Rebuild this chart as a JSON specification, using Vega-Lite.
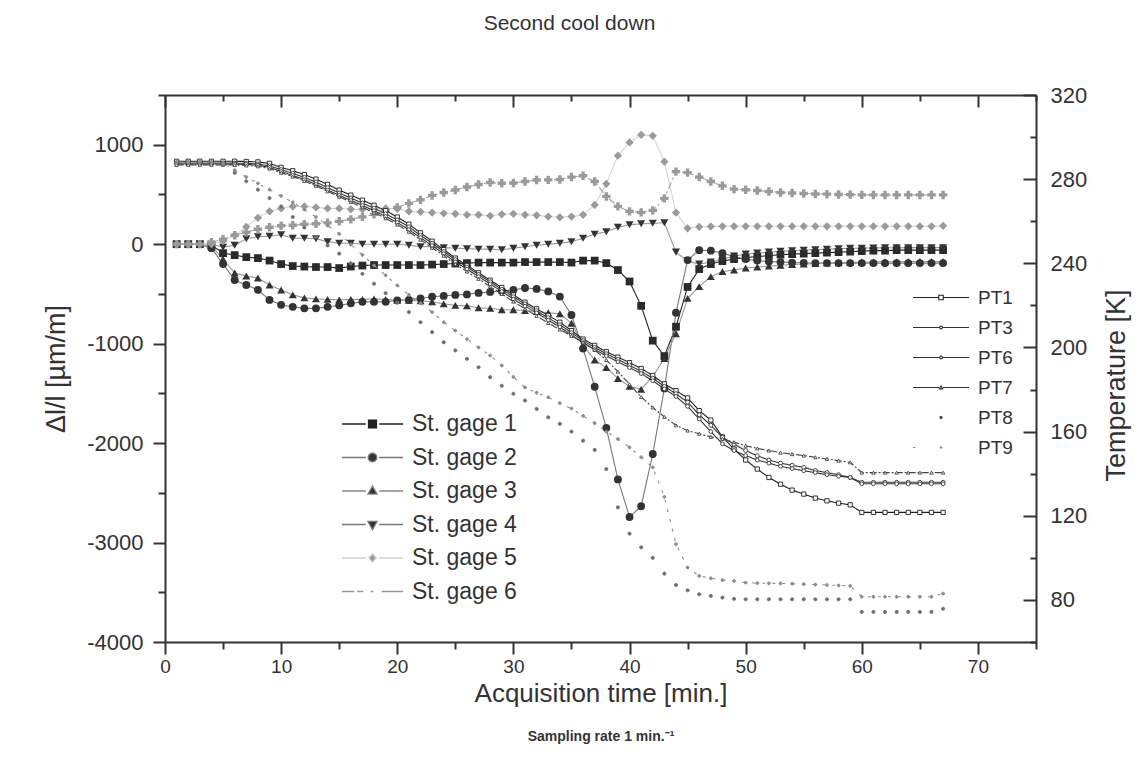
{
"$schema": "https://vega.github.io/schema/vega-lite/v6.json",
"autosize": {"type": "none"},
"padding": {"left": 165, "top": 95, "right": 103, "bottom": 129},
"width": 871,
"height": 547,
"background": "white",
"config": {"view": {"stroke": null}, "font": "Liberation Sans"},
"title": {"text": "Second cool down", "fontSize": 21, "fontWeight": "normal", "color": "#333", "font": "Liberation Sans", "anchor": "middle", "frame": "group", "dx": -31, "offset": 50},
"datasets": {
"strain": [
{"t":1,"s":"St. gage 1","v":0},{"t":2,"s":"St. gage 1","v":0},{"t":3,"s":"St. gage 1","v":0},{"t":4,"s":"St. gage 1","v":-10},{"t":5,"s":"St. gage 1","v":-90},{"t":6,"s":"St. gage 1","v":-110},{"t":7,"s":"St. gage 1","v":-130},{"t":8,"s":"St. gage 1","v":-140},{"t":9,"s":"St. gage 1","v":-165},{"t":10,"s":"St. gage 1","v":-200},
{"t":11,"s":"St. gage 1","v":-220},{"t":12,"s":"St. gage 1","v":-225},{"t":13,"s":"St. gage 1","v":-230},{"t":14,"s":"St. gage 1","v":-230},{"t":15,"s":"St. gage 1","v":-240},{"t":16,"s":"St. gage 1","v":-225},{"t":17,"s":"St. gage 1","v":-215},{"t":18,"s":"St. gage 1","v":-210},{"t":19,"s":"St. gage 1","v":-210},{"t":20,"s":"St. gage 1","v":-210},
{"t":21,"s":"St. gage 1","v":-210},{"t":22,"s":"St. gage 1","v":-210},{"t":23,"s":"St. gage 1","v":-205},{"t":24,"s":"St. gage 1","v":-200},{"t":25,"s":"St. gage 1","v":-195},{"t":26,"s":"St. gage 1","v":-190},{"t":27,"s":"St. gage 1","v":-185},{"t":28,"s":"St. gage 1","v":-185},{"t":29,"s":"St. gage 1","v":-185},{"t":30,"s":"St. gage 1","v":-185},
{"t":31,"s":"St. gage 1","v":-180},{"t":32,"s":"St. gage 1","v":-180},{"t":33,"s":"St. gage 1","v":-180},{"t":34,"s":"St. gage 1","v":-180},{"t":35,"s":"St. gage 1","v":-185},{"t":36,"s":"St. gage 1","v":-165},{"t":37,"s":"St. gage 1","v":-165},{"t":38,"s":"St. gage 1","v":-190},{"t":39,"s":"St. gage 1","v":-260},{"t":40,"s":"St. gage 1","v":-375},
{"t":41,"s":"St. gage 1","v":-620},{"t":42,"s":"St. gage 1","v":-970},{"t":43,"s":"St. gage 1","v":-1125},{"t":44,"s":"St. gage 1","v":-830},{"t":45,"s":"St. gage 1","v":-430},{"t":46,"s":"St. gage 1","v":-250},{"t":47,"s":"St. gage 1","v":-200},{"t":48,"s":"St. gage 1","v":-170},{"t":49,"s":"St. gage 1","v":-150},{"t":50,"s":"St. gage 1","v":-135},
{"t":51,"s":"St. gage 1","v":-125},{"t":52,"s":"St. gage 1","v":-115},{"t":53,"s":"St. gage 1","v":-105},{"t":54,"s":"St. gage 1","v":-100},{"t":55,"s":"St. gage 1","v":-95},{"t":56,"s":"St. gage 1","v":-90},{"t":57,"s":"St. gage 1","v":-85},{"t":58,"s":"St. gage 1","v":-80},{"t":59,"s":"St. gage 1","v":-75},{"t":60,"s":"St. gage 1","v":-70},
{"t":61,"s":"St. gage 1","v":-65},{"t":62,"s":"St. gage 1","v":-65},{"t":63,"s":"St. gage 1","v":-60},{"t":64,"s":"St. gage 1","v":-60},{"t":65,"s":"St. gage 1","v":-60},{"t":66,"s":"St. gage 1","v":-60},{"t":67,"s":"St. gage 1","v":-60},
{"t":1,"s":"St. gage 2","v":0},{"t":2,"s":"St. gage 2","v":0},{"t":3,"s":"St. gage 2","v":0},{"t":4,"s":"St. gage 2","v":-40},{"t":5,"s":"St. gage 2","v":-200},{"t":6,"s":"St. gage 2","v":-360},{"t":7,"s":"St. gage 2","v":-410},{"t":8,"s":"St. gage 2","v":-460},{"t":9,"s":"St. gage 2","v":-560},{"t":10,"s":"St. gage 2","v":-610},
{"t":11,"s":"St. gage 2","v":-630},{"t":12,"s":"St. gage 2","v":-645},{"t":13,"s":"St. gage 2","v":-645},{"t":14,"s":"St. gage 2","v":-630},{"t":15,"s":"St. gage 2","v":-615},{"t":16,"s":"St. gage 2","v":-595},{"t":17,"s":"St. gage 2","v":-580},{"t":18,"s":"St. gage 2","v":-580},{"t":19,"s":"St. gage 2","v":-580},{"t":20,"s":"St. gage 2","v":-565},
{"t":21,"s":"St. gage 2","v":-560},{"t":22,"s":"St. gage 2","v":-545},{"t":23,"s":"St. gage 2","v":-528},{"t":24,"s":"St. gage 2","v":-520},{"t":25,"s":"St. gage 2","v":-510},{"t":26,"s":"St. gage 2","v":-505},{"t":27,"s":"St. gage 2","v":-490},{"t":28,"s":"St. gage 2","v":-480},{"t":29,"s":"St. gage 2","v":-470},{"t":30,"s":"St. gage 2","v":-460},
{"t":31,"s":"St. gage 2","v":-440},{"t":32,"s":"St. gage 2","v":-450},{"t":33,"s":"St. gage 2","v":-475},{"t":34,"s":"St. gage 2","v":-527},{"t":35,"s":"St. gage 2","v":-712},{"t":36,"s":"St. gage 2","v":-1050},{"t":37,"s":"St. gage 2","v":-1434},{"t":38,"s":"St. gage 2","v":-1847},{"t":39,"s":"St. gage 2","v":-2365},{"t":40,"s":"St. gage 2","v":-2743},
{"t":41,"s":"St. gage 2","v":-2635},{"t":42,"s":"St. gage 2","v":-2110},{"t":43,"s":"St. gage 2","v":-1450},{"t":44,"s":"St. gage 2","v":-690},{"t":45,"s":"St. gage 2","v":-160},{"t":46,"s":"St. gage 2","v":-60},{"t":47,"s":"St. gage 2","v":-65},{"t":48,"s":"St. gage 2","v":-90},{"t":49,"s":"St. gage 2","v":-125},{"t":50,"s":"St. gage 2","v":-150},
{"t":51,"s":"St. gage 2","v":-165},{"t":52,"s":"St. gage 2","v":-175},{"t":53,"s":"St. gage 2","v":-180},{"t":54,"s":"St. gage 2","v":-185},{"t":55,"s":"St. gage 2","v":-188},{"t":56,"s":"St. gage 2","v":-190},{"t":57,"s":"St. gage 2","v":-190},{"t":58,"s":"St. gage 2","v":-190},{"t":59,"s":"St. gage 2","v":-190},{"t":60,"s":"St. gage 2","v":-190},
{"t":61,"s":"St. gage 2","v":-190},{"t":62,"s":"St. gage 2","v":-190},{"t":63,"s":"St. gage 2","v":-190},{"t":64,"s":"St. gage 2","v":-190},{"t":65,"s":"St. gage 2","v":-190},{"t":66,"s":"St. gage 2","v":-190},{"t":67,"s":"St. gage 2","v":-190},
{"t":1,"s":"St. gage 3","v":0},{"t":2,"s":"St. gage 3","v":0},{"t":3,"s":"St. gage 3","v":0},{"t":4,"s":"St. gage 3","v":-20},{"t":5,"s":"St. gage 3","v":-150},{"t":6,"s":"St. gage 3","v":-290},{"t":7,"s":"St. gage 3","v":-320},{"t":8,"s":"St. gage 3","v":-340},{"t":9,"s":"St. gage 3","v":-410},{"t":10,"s":"St. gage 3","v":-460},
{"t":11,"s":"St. gage 3","v":-510},{"t":12,"s":"St. gage 3","v":-540},{"t":13,"s":"St. gage 3","v":-550},{"t":14,"s":"St. gage 3","v":-555},{"t":15,"s":"St. gage 3","v":-560},{"t":16,"s":"St. gage 3","v":-555},{"t":17,"s":"St. gage 3","v":-555},{"t":18,"s":"St. gage 3","v":-550},{"t":19,"s":"St. gage 3","v":-555},{"t":20,"s":"St. gage 3","v":-565},
{"t":21,"s":"St. gage 3","v":-565},{"t":22,"s":"St. gage 3","v":-570},{"t":23,"s":"St. gage 3","v":-580},{"t":24,"s":"St. gage 3","v":-600},{"t":25,"s":"St. gage 3","v":-615},{"t":26,"s":"St. gage 3","v":-620},{"t":27,"s":"St. gage 3","v":-640},{"t":28,"s":"St. gage 3","v":-645},{"t":29,"s":"St. gage 3","v":-660},{"t":30,"s":"St. gage 3","v":-660},
{"t":31,"s":"St. gage 3","v":-668},{"t":32,"s":"St. gage 3","v":-677},{"t":33,"s":"St. gage 3","v":-690},{"t":34,"s":"St. gage 3","v":-700},{"t":35,"s":"St. gage 3","v":-795},{"t":36,"s":"St. gage 3","v":-1015},{"t":37,"s":"St. gage 3","v":-1165},{"t":38,"s":"St. gage 3","v":-1240},{"t":39,"s":"St. gage 3","v":-1350},{"t":40,"s":"St. gage 3","v":-1430},
{"t":41,"s":"St. gage 3","v":-1460},{"t":42,"s":"St. gage 3","v":-1330},{"t":43,"s":"St. gage 3","v":-1150},{"t":44,"s":"St. gage 3","v":-900},{"t":45,"s":"St. gage 3","v":-545},{"t":46,"s":"St. gage 3","v":-427},{"t":47,"s":"St. gage 3","v":-326},{"t":48,"s":"St. gage 3","v":-276},{"t":49,"s":"St. gage 3","v":-259},{"t":50,"s":"St. gage 3","v":-240},
{"t":51,"s":"St. gage 3","v":-230},{"t":52,"s":"St. gage 3","v":-220},{"t":53,"s":"St. gage 3","v":-212},{"t":54,"s":"St. gage 3","v":-205},{"t":55,"s":"St. gage 3","v":-200},{"t":56,"s":"St. gage 3","v":-195},{"t":57,"s":"St. gage 3","v":-190},{"t":58,"s":"St. gage 3","v":-187},{"t":59,"s":"St. gage 3","v":-185},{"t":60,"s":"St. gage 3","v":-180},
{"t":61,"s":"St. gage 3","v":-178},{"t":62,"s":"St. gage 3","v":-177},{"t":63,"s":"St. gage 3","v":-176},{"t":64,"s":"St. gage 3","v":-175},{"t":65,"s":"St. gage 3","v":-175},{"t":66,"s":"St. gage 3","v":-175},{"t":67,"s":"St. gage 3","v":-175},
{"t":1,"s":"St. gage 4","v":0},{"t":2,"s":"St. gage 4","v":0},{"t":3,"s":"St. gage 4","v":0},{"t":4,"s":"St. gage 4","v":0},{"t":5,"s":"St. gage 4","v":-30},{"t":6,"s":"St. gage 4","v":-10},{"t":7,"s":"St. gage 4","v":55},{"t":8,"s":"St. gage 4","v":75},{"t":9,"s":"St. gage 4","v":80},{"t":10,"s":"St. gage 4","v":95},
{"t":11,"s":"St. gage 4","v":60},{"t":12,"s":"St. gage 4","v":60},{"t":13,"s":"St. gage 4","v":55},{"t":14,"s":"St. gage 4","v":25},{"t":15,"s":"St. gage 4","v":10},{"t":16,"s":"St. gage 4","v":10},{"t":17,"s":"St. gage 4","v":0},{"t":18,"s":"St. gage 4","v":0},{"t":19,"s":"St. gage 4","v":0},{"t":20,"s":"St. gage 4","v":0},
{"t":21,"s":"St. gage 4","v":-10},{"t":22,"s":"St. gage 4","v":-25},{"t":23,"s":"St. gage 4","v":-25},{"t":24,"s":"St. gage 4","v":-35},{"t":25,"s":"St. gage 4","v":-40},{"t":26,"s":"St. gage 4","v":-45},{"t":27,"s":"St. gage 4","v":-50},{"t":28,"s":"St. gage 4","v":-50},{"t":29,"s":"St. gage 4","v":-57},{"t":30,"s":"St. gage 4","v":-40},
{"t":31,"s":"St. gage 4","v":-25},{"t":32,"s":"St. gage 4","v":-10},{"t":33,"s":"St. gage 4","v":0},{"t":34,"s":"St. gage 4","v":10},{"t":35,"s":"St. gage 4","v":25},{"t":36,"s":"St. gage 4","v":60},{"t":37,"s":"St. gage 4","v":100},{"t":38,"s":"St. gage 4","v":125},{"t":39,"s":"St. gage 4","v":170},{"t":40,"s":"St. gage 4","v":195},
{"t":41,"s":"St. gage 4","v":205},{"t":42,"s":"St. gage 4","v":210},{"t":43,"s":"St. gage 4","v":215},{"t":44,"s":"St. gage 4","v":-80},{"t":45,"s":"St. gage 4","v":-170},{"t":46,"s":"St. gage 4","v":-200},{"t":47,"s":"St. gage 4","v":-180},{"t":48,"s":"St. gage 4","v":-150},{"t":49,"s":"St. gage 4","v":-120},{"t":50,"s":"St. gage 4","v":-100},
{"t":51,"s":"St. gage 4","v":-90},{"t":52,"s":"St. gage 4","v":-80},{"t":53,"s":"St. gage 4","v":-70},{"t":54,"s":"St. gage 4","v":-65},{"t":55,"s":"St. gage 4","v":-60},{"t":56,"s":"St. gage 4","v":-55},{"t":57,"s":"St. gage 4","v":-50},{"t":58,"s":"St. gage 4","v":-45},{"t":59,"s":"St. gage 4","v":-42},{"t":60,"s":"St. gage 4","v":-40},
{"t":61,"s":"St. gage 4","v":-38},{"t":62,"s":"St. gage 4","v":-37},{"t":63,"s":"St. gage 4","v":-36},{"t":64,"s":"St. gage 4","v":-35},{"t":65,"s":"St. gage 4","v":-35},{"t":66,"s":"St. gage 4","v":-35},{"t":67,"s":"St. gage 4","v":-35},
{"t":1,"s":"St. gage 5","v":0},{"t":2,"s":"St. gage 5","v":0},{"t":3,"s":"St. gage 5","v":0},{"t":4,"s":"St. gage 5","v":0},{"t":5,"s":"St. gage 5","v":30},{"t":6,"s":"St. gage 5","v":90},{"t":7,"s":"St. gage 5","v":175},{"t":8,"s":"St. gage 5","v":265},{"t":9,"s":"St. gage 5","v":330},{"t":10,"s":"St. gage 5","v":360},
{"t":11,"s":"St. gage 5","v":380},{"t":12,"s":"St. gage 5","v":380},{"t":13,"s":"St. gage 5","v":370},{"t":14,"s":"St. gage 5","v":360},{"t":15,"s":"St. gage 5","v":360},{"t":16,"s":"St. gage 5","v":350},{"t":17,"s":"St. gage 5","v":350},{"t":18,"s":"St. gage 5","v":355},{"t":19,"s":"St. gage 5","v":360},{"t":20,"s":"St. gage 5","v":355},
{"t":21,"s":"St. gage 5","v":330},{"t":22,"s":"St. gage 5","v":325},{"t":23,"s":"St. gage 5","v":318},{"t":24,"s":"St. gage 5","v":310},{"t":25,"s":"St. gage 5","v":305},{"t":26,"s":"St. gage 5","v":295},{"t":27,"s":"St. gage 5","v":295},{"t":28,"s":"St. gage 5","v":285},{"t":29,"s":"St. gage 5","v":300},{"t":30,"s":"St. gage 5","v":305},
{"t":31,"s":"St. gage 5","v":295},{"t":32,"s":"St. gage 5","v":290},{"t":33,"s":"St. gage 5","v":278},{"t":34,"s":"St. gage 5","v":270},{"t":35,"s":"St. gage 5","v":278},{"t":36,"s":"St. gage 5","v":295},{"t":37,"s":"St. gage 5","v":395},{"t":38,"s":"St. gage 5","v":607},{"t":39,"s":"St. gage 5","v":890},{"t":40,"s":"St. gage 5","v":1023},
{"t":41,"s":"St. gage 5","v":1100},{"t":42,"s":"St. gage 5","v":1090},{"t":43,"s":"St. gage 5","v":830},{"t":44,"s":"St. gage 5","v":318},{"t":45,"s":"St. gage 5","v":160},{"t":46,"s":"St. gage 5","v":175},{"t":47,"s":"St. gage 5","v":178},{"t":48,"s":"St. gage 5","v":180},{"t":49,"s":"St. gage 5","v":180},{"t":50,"s":"St. gage 5","v":180},
{"t":51,"s":"St. gage 5","v":180},{"t":52,"s":"St. gage 5","v":180},{"t":53,"s":"St. gage 5","v":180},{"t":54,"s":"St. gage 5","v":180},{"t":55,"s":"St. gage 5","v":180},{"t":56,"s":"St. gage 5","v":180},{"t":57,"s":"St. gage 5","v":180},{"t":58,"s":"St. gage 5","v":180},{"t":59,"s":"St. gage 5","v":180},{"t":60,"s":"St. gage 5","v":180},
{"t":61,"s":"St. gage 5","v":180},{"t":62,"s":"St. gage 5","v":180},{"t":63,"s":"St. gage 5","v":180},{"t":64,"s":"St. gage 5","v":180},{"t":65,"s":"St. gage 5","v":180},{"t":66,"s":"St. gage 5","v":180},{"t":67,"s":"St. gage 5","v":185},
{"t":1,"s":"St. gage 6","v":0},{"t":2,"s":"St. gage 6","v":0},{"t":3,"s":"St. gage 6","v":0},{"t":4,"s":"St. gage 6","v":20},{"t":5,"s":"St. gage 6","v":50},{"t":6,"s":"St. gage 6","v":90},{"t":7,"s":"St. gage 6","v":120},{"t":8,"s":"St. gage 6","v":150},{"t":9,"s":"St. gage 6","v":170},{"t":10,"s":"St. gage 6","v":185},
{"t":11,"s":"St. gage 6","v":190},{"t":12,"s":"St. gage 6","v":200},{"t":13,"s":"St. gage 6","v":205},{"t":14,"s":"St. gage 6","v":215},{"t":15,"s":"St. gage 6","v":230},{"t":16,"s":"St. gage 6","v":250},{"t":17,"s":"St. gage 6","v":275},{"t":18,"s":"St. gage 6","v":300},{"t":19,"s":"St. gage 6","v":335},{"t":20,"s":"St. gage 6","v":370},
{"t":21,"s":"St. gage 6","v":410},{"t":22,"s":"St. gage 6","v":445},{"t":23,"s":"St. gage 6","v":490},{"t":24,"s":"St. gage 6","v":520},{"t":25,"s":"St. gage 6","v":545},{"t":26,"s":"St. gage 6","v":575},{"t":27,"s":"St. gage 6","v":600},{"t":28,"s":"St. gage 6","v":620},{"t":29,"s":"St. gage 6","v":613},{"t":30,"s":"St. gage 6","v":615},
{"t":31,"s":"St. gage 6","v":630},{"t":32,"s":"St. gage 6","v":645},{"t":33,"s":"St. gage 6","v":647},{"t":34,"s":"St. gage 6","v":650},{"t":35,"s":"St. gage 6","v":675},{"t":36,"s":"St. gage 6","v":688},{"t":37,"s":"St. gage 6","v":630},{"t":38,"s":"St. gage 6","v":480},{"t":39,"s":"St. gage 6","v":380},{"t":40,"s":"St. gage 6","v":330},
{"t":41,"s":"St. gage 6","v":320},{"t":42,"s":"St. gage 6","v":340},{"t":43,"s":"St. gage 6","v":460},{"t":44,"s":"St. gage 6","v":730},{"t":45,"s":"St. gage 6","v":720},{"t":46,"s":"St. gage 6","v":675},{"t":47,"s":"St. gage 6","v":630},{"t":48,"s":"St. gage 6","v":587},{"t":49,"s":"St. gage 6","v":553},{"t":50,"s":"St. gage 6","v":547},
{"t":51,"s":"St. gage 6","v":540},{"t":52,"s":"St. gage 6","v":530},{"t":53,"s":"St. gage 6","v":520},{"t":54,"s":"St. gage 6","v":515},{"t":55,"s":"St. gage 6","v":510},{"t":56,"s":"St. gage 6","v":505},{"t":57,"s":"St. gage 6","v":503},{"t":58,"s":"St. gage 6","v":500},{"t":59,"s":"St. gage 6","v":498},{"t":60,"s":"St. gage 6","v":496},
{"t":61,"s":"St. gage 6","v":495},{"t":62,"s":"St. gage 6","v":495},{"t":63,"s":"St. gage 6","v":495},{"t":64,"s":"St. gage 6","v":495},{"t":65,"s":"St. gage 6","v":495},{"t":66,"s":"St. gage 6","v":495},{"t":67,"s":"St. gage 6","v":495}
],
"temp": [
{"t":1,"s":"PT1","k":288.5},{"t":2,"s":"PT1","k":288.5},{"t":3,"s":"PT1","k":288.5},{"t":4,"s":"PT1","k":288.5},{"t":5,"s":"PT1","k":288.5},{"t":6,"s":"PT1","k":288.5},{"t":7,"s":"PT1","k":288.4},{"t":8,"s":"PT1","k":288.2},{"t":9,"s":"PT1","k":287.5},{"t":10,"s":"PT1","k":285.6},
{"t":11,"s":"PT1","k":284},{"t":12,"s":"PT1","k":282.2},{"t":13,"s":"PT1","k":280},{"t":14,"s":"PT1","k":277.5},{"t":15,"s":"PT1","k":274.8},{"t":16,"s":"PT1","k":272.4},{"t":17,"s":"PT1","k":270},{"t":18,"s":"PT1","k":267.6},{"t":19,"s":"PT1","k":265},{"t":20,"s":"PT1","k":262},
{"t":21,"s":"PT1","k":258.6},{"t":22,"s":"PT1","k":254.5},{"t":23,"s":"PT1","k":250.5},{"t":24,"s":"PT1","k":246.5},{"t":25,"s":"PT1","k":242.5},{"t":26,"s":"PT1","k":239},{"t":27,"s":"PT1","k":235.5},{"t":28,"s":"PT1","k":232},{"t":29,"s":"PT1","k":228.5},{"t":30,"s":"PT1","k":225},
{"t":31,"s":"PT1","k":221.5},{"t":32,"s":"PT1","k":218.4},{"t":33,"s":"PT1","k":215.2},{"t":34,"s":"PT1","k":212},{"t":35,"s":"PT1","k":208},{"t":36,"s":"PT1","k":204},{"t":37,"s":"PT1","k":201},{"t":38,"s":"PT1","k":198},{"t":39,"s":"PT1","k":195.4},{"t":40,"s":"PT1","k":192.8},
{"t":41,"s":"PT1","k":190},{"t":42,"s":"PT1","k":186.7},{"t":43,"s":"PT1","k":182.7},{"t":44,"s":"PT1","k":179.5},{"t":45,"s":"PT1","k":176},{"t":46,"s":"PT1","k":170},{"t":47,"s":"PT1","k":165.5},{"t":48,"s":"PT1","k":157.5},{"t":49,"s":"PT1","k":151.7},{"t":50,"s":"PT1","k":146.5},
{"t":51,"s":"PT1","k":142.2},{"t":52,"s":"PT1","k":138.2},{"t":53,"s":"PT1","k":135},{"t":54,"s":"PT1","k":132.2},{"t":55,"s":"PT1","k":130.3},{"t":56,"s":"PT1","k":128.4},{"t":57,"s":"PT1","k":127.1},{"t":58,"s":"PT1","k":126},{"t":59,"s":"PT1","k":125.2},{"t":60,"s":"PT1","k":121.6},
{"t":61,"s":"PT1","k":121.6},{"t":62,"s":"PT1","k":121.6},{"t":63,"s":"PT1","k":121.6},{"t":64,"s":"PT1","k":121.6},{"t":65,"s":"PT1","k":121.6},{"t":66,"s":"PT1","k":121.6},{"t":67,"s":"PT1","k":121.6},
{"t":1,"s":"PT3","k":287.7},{"t":2,"s":"PT3","k":287.7},{"t":3,"s":"PT3","k":287.7},{"t":4,"s":"PT3","k":287.7},{"t":5,"s":"PT3","k":287.7},{"t":6,"s":"PT3","k":287.6},{"t":7,"s":"PT3","k":287.5},{"t":8,"s":"PT3","k":287.2},{"t":9,"s":"PT3","k":286.3},{"t":10,"s":"PT3","k":284.5},
{"t":11,"s":"PT3","k":282.8},{"t":12,"s":"PT3","k":280.8},{"t":13,"s":"PT3","k":278.6},{"t":14,"s":"PT3","k":276},{"t":15,"s":"PT3","k":273.4},{"t":16,"s":"PT3","k":271},{"t":17,"s":"PT3","k":268.6},{"t":18,"s":"PT3","k":266.2},{"t":19,"s":"PT3","k":263.5},{"t":20,"s":"PT3","k":260.6},
{"t":21,"s":"PT3","k":257.3},{"t":22,"s":"PT3","k":253.3},{"t":23,"s":"PT3","k":249.5},{"t":24,"s":"PT3","k":245.6},{"t":25,"s":"PT3","k":241.7},{"t":26,"s":"PT3","k":238.2},{"t":27,"s":"PT3","k":234.7},{"t":28,"s":"PT3","k":231.2},{"t":29,"s":"PT3","k":227.6},{"t":30,"s":"PT3","k":224.1},
{"t":31,"s":"PT3","k":220.6},{"t":32,"s":"PT3","k":217.4},{"t":33,"s":"PT3","k":214.1},{"t":34,"s":"PT3","k":210.8},{"t":35,"s":"PT3","k":207},{"t":36,"s":"PT3","k":203.2},{"t":37,"s":"PT3","k":200},{"t":38,"s":"PT3","k":197},{"t":39,"s":"PT3","k":194.3},{"t":40,"s":"PT3","k":191.5},
{"t":41,"s":"PT3","k":188.7},{"t":42,"s":"PT3","k":185.4},{"t":43,"s":"PT3","k":181.5},{"t":44,"s":"PT3","k":178},{"t":45,"s":"PT3","k":174},{"t":46,"s":"PT3","k":168},{"t":47,"s":"PT3","k":163},{"t":48,"s":"PT3","k":157.3},{"t":49,"s":"PT3","k":154},{"t":50,"s":"PT3","k":151},
{"t":51,"s":"PT3","k":148.5},{"t":52,"s":"PT3","k":146.5},{"t":53,"s":"PT3","k":145},{"t":54,"s":"PT3","k":144},{"t":55,"s":"PT3","k":143},{"t":56,"s":"PT3","k":141.5},{"t":57,"s":"PT3","k":140.5},{"t":58,"s":"PT3","k":139.5},{"t":59,"s":"PT3","k":138.2},{"t":60,"s":"PT3","k":135.9},
{"t":61,"s":"PT3","k":135.9},{"t":62,"s":"PT3","k":135.9},{"t":63,"s":"PT3","k":135.9},{"t":64,"s":"PT3","k":135.9},{"t":65,"s":"PT3","k":135.9},{"t":66,"s":"PT3","k":135.9},{"t":67,"s":"PT3","k":135.9},
{"t":1,"s":"PT6","k":287.2},{"t":2,"s":"PT6","k":287.2},{"t":3,"s":"PT6","k":287.2},{"t":4,"s":"PT6","k":287.2},{"t":5,"s":"PT6","k":287.2},{"t":6,"s":"PT6","k":287.1},{"t":7,"s":"PT6","k":287},{"t":8,"s":"PT6","k":286.6},{"t":9,"s":"PT6","k":285.6},{"t":10,"s":"PT6","k":283.6},
{"t":11,"s":"PT6","k":281.8},{"t":12,"s":"PT6","k":279.8},{"t":13,"s":"PT6","k":277.5},{"t":14,"s":"PT6","k":274.9},{"t":15,"s":"PT6","k":272.3},{"t":16,"s":"PT6","k":269.9},{"t":17,"s":"PT6","k":267.5},{"t":18,"s":"PT6","k":265},{"t":19,"s":"PT6","k":262.3},{"t":20,"s":"PT6","k":259.4},
{"t":21,"s":"PT6","k":256},{"t":22,"s":"PT6","k":252.2},{"t":23,"s":"PT6","k":248.4},{"t":24,"s":"PT6","k":244.6},{"t":25,"s":"PT6","k":240.7},{"t":26,"s":"PT6","k":237.2},{"t":27,"s":"PT6","k":233.7},{"t":28,"s":"PT6","k":230.2},{"t":29,"s":"PT6","k":226.6},{"t":30,"s":"PT6","k":223},
{"t":31,"s":"PT6","k":219.6},{"t":32,"s":"PT6","k":216.4},{"t":33,"s":"PT6","k":213},{"t":34,"s":"PT6","k":209.7},{"t":35,"s":"PT6","k":205.9},{"t":36,"s":"PT6","k":202.2},{"t":37,"s":"PT6","k":199},{"t":38,"s":"PT6","k":196},{"t":39,"s":"PT6","k":193.2},{"t":40,"s":"PT6","k":190.4},
{"t":41,"s":"PT6","k":187.6},{"t":42,"s":"PT6","k":184.2},{"t":43,"s":"PT6","k":180.3},{"t":44,"s":"PT6","k":176.7},{"t":45,"s":"PT6","k":172},{"t":46,"s":"PT6","k":166},{"t":47,"s":"PT6","k":160},{"t":48,"s":"PT6","k":154.2},{"t":49,"s":"PT6","k":151},{"t":50,"s":"PT6","k":148.6},
{"t":51,"s":"PT6","k":146.5},{"t":52,"s":"PT6","k":145},{"t":53,"s":"PT6","k":143.5},{"t":54,"s":"PT6","k":142.4},{"t":55,"s":"PT6","k":141.4},{"t":56,"s":"PT6","k":140.5},{"t":57,"s":"PT6","k":139.5},{"t":58,"s":"PT6","k":138.8},{"t":59,"s":"PT6","k":138.2},{"t":60,"s":"PT6","k":135.2},
{"t":61,"s":"PT6","k":135.2},{"t":62,"s":"PT6","k":135.2},{"t":63,"s":"PT6","k":135.2},{"t":64,"s":"PT6","k":135.2},{"t":65,"s":"PT6","k":135.2},{"t":66,"s":"PT6","k":135.2},{"t":67,"s":"PT6","k":135.2},
{"t":1,"s":"PT7","k":286.8},{"t":2,"s":"PT7","k":286.8},{"t":3,"s":"PT7","k":286.8},{"t":4,"s":"PT7","k":286.8},{"t":5,"s":"PT7","k":286.8},{"t":6,"s":"PT7","k":286.7},{"t":7,"s":"PT7","k":286.5},{"t":8,"s":"PT7","k":286.1},{"t":9,"s":"PT7","k":285},{"t":10,"s":"PT7","k":283},
{"t":11,"s":"PT7","k":281.2},{"t":12,"s":"PT7","k":279.1},{"t":13,"s":"PT7","k":276.8},{"t":14,"s":"PT7","k":274.2},{"t":15,"s":"PT7","k":271.6},{"t":16,"s":"PT7","k":269.1},{"t":17,"s":"PT7","k":266.6},{"t":18,"s":"PT7","k":264.1},{"t":19,"s":"PT7","k":261.4},{"t":20,"s":"PT7","k":258.4},
{"t":21,"s":"PT7","k":255},{"t":22,"s":"PT7","k":251.2},{"t":23,"s":"PT7","k":247.4},{"t":24,"s":"PT7","k":243.6},{"t":25,"s":"PT7","k":239.7},{"t":26,"s":"PT7","k":236.1},{"t":27,"s":"PT7","k":232.6},{"t":28,"s":"PT7","k":229},{"t":29,"s":"PT7","k":225.4},{"t":30,"s":"PT7","k":221.8},
{"t":31,"s":"PT7","k":218.4},{"t":32,"s":"PT7","k":215},{"t":33,"s":"PT7","k":211.6},{"t":34,"s":"PT7","k":208.5},{"t":35,"s":"PT7","k":205.5},{"t":36,"s":"PT7","k":202.5},{"t":37,"s":"PT7","k":198.8},{"t":38,"s":"PT7","k":194},{"t":39,"s":"PT7","k":188.5},{"t":40,"s":"PT7","k":182.5},
{"t":41,"s":"PT7","k":176.5},{"t":42,"s":"PT7","k":171.5},{"t":43,"s":"PT7","k":167},{"t":44,"s":"PT7","k":163},{"t":45,"s":"PT7","k":160.5},{"t":46,"s":"PT7","k":159},{"t":47,"s":"PT7","k":157.5},{"t":48,"s":"PT7","k":156.5},{"t":49,"s":"PT7","k":155},{"t":50,"s":"PT7","k":153.3},
{"t":51,"s":"PT7","k":152},{"t":52,"s":"PT7","k":151},{"t":53,"s":"PT7","k":150},{"t":54,"s":"PT7","k":149.3},{"t":55,"s":"PT7","k":148.6},{"t":56,"s":"PT7","k":147.8},{"t":57,"s":"PT7","k":147},{"t":58,"s":"PT7","k":146.2},{"t":59,"s":"PT7","k":145.4},{"t":60,"s":"PT7","k":140.5},
{"t":61,"s":"PT7","k":140.5},{"t":62,"s":"PT7","k":140.5},{"t":63,"s":"PT7","k":140.5},{"t":64,"s":"PT7","k":140.5},{"t":65,"s":"PT7","k":140.5},{"t":66,"s":"PT7","k":140.5},{"t":67,"s":"PT7","k":140.5},
{"t":1,"s":"PT8","k":288},{"t":2,"s":"PT8","k":288},{"t":3,"s":"PT8","k":288},{"t":4,"s":"PT8","k":288},{"t":5,"s":"PT8","k":287},{"t":6,"s":"PT8","k":283},{"t":7,"s":"PT8","k":279},{"t":8,"s":"PT8","k":275},{"t":9,"s":"PT8","k":271},{"t":10,"s":"PT8","k":267},
{"t":11,"s":"PT8","k":262},{"t":12,"s":"PT8","k":257},{"t":13,"s":"PT8","k":252.5},{"t":14,"s":"PT8","k":248.5},{"t":15,"s":"PT8","k":244.6},{"t":16,"s":"PT8","k":240},{"t":17,"s":"PT8","k":235},{"t":18,"s":"PT8","k":230.3},{"t":19,"s":"PT8","k":225.8},{"t":20,"s":"PT8","k":221.3},
{"t":21,"s":"PT8","k":216.8},{"t":22,"s":"PT8","k":212},{"t":23,"s":"PT8","k":207.3},{"t":24,"s":"PT8","k":202.5},{"t":25,"s":"PT8","k":198.6},{"t":26,"s":"PT8","k":194.6},{"t":27,"s":"PT8","k":190.6},{"t":28,"s":"PT8","k":185.9},{"t":29,"s":"PT8","k":181.8},{"t":30,"s":"PT8","k":178},
{"t":31,"s":"PT8","k":174.8},{"t":32,"s":"PT8","k":170.8},{"t":33,"s":"PT8","k":166.8},{"t":34,"s":"PT8","k":163.7},{"t":35,"s":"PT8","k":160},{"t":36,"s":"PT8","k":155.7},{"t":37,"s":"PT8","k":151.3},{"t":38,"s":"PT8","k":142.2},{"t":39,"s":"PT8","k":124},{"t":40,"s":"PT8","k":111.5},
{"t":41,"s":"PT8","k":105},{"t":42,"s":"PT8","k":100},{"t":43,"s":"PT8","k":92.5},{"t":44,"s":"PT8","k":87.1},{"t":45,"s":"PT8","k":84.6},{"t":46,"s":"PT8","k":82.7},{"t":47,"s":"PT8","k":81.9},{"t":48,"s":"PT8","k":81.1},{"t":49,"s":"PT8","k":80.5},{"t":50,"s":"PT8","k":80.3},
{"t":51,"s":"PT8","k":80.3},{"t":52,"s":"PT8","k":80.3},{"t":53,"s":"PT8","k":80.3},{"t":54,"s":"PT8","k":80.3},{"t":55,"s":"PT8","k":80.3},{"t":56,"s":"PT8","k":80.3},{"t":57,"s":"PT8","k":80.3},{"t":58,"s":"PT8","k":80.3},{"t":59,"s":"PT8","k":80.3},{"t":60,"s":"PT8","k":74.3},
{"t":61,"s":"PT8","k":74.3},{"t":62,"s":"PT8","k":74.3},{"t":63,"s":"PT8","k":74.3},{"t":64,"s":"PT8","k":74.3},{"t":65,"s":"PT8","k":74.3},{"t":66,"s":"PT8","k":74.3},{"t":67,"s":"PT8","k":75.8},
{"t":1,"s":"PT9","k":288},{"t":2,"s":"PT9","k":288},{"t":3,"s":"PT9","k":288},{"t":4,"s":"PT9","k":288},{"t":5,"s":"PT9","k":287.5},{"t":6,"s":"PT9","k":284.3},{"t":7,"s":"PT9","k":281},{"t":8,"s":"PT9","k":278},{"t":9,"s":"PT9","k":275},{"t":10,"s":"PT9","k":272},
{"t":11,"s":"PT9","k":269},{"t":12,"s":"PT9","k":265.5},{"t":13,"s":"PT9","k":262},{"t":14,"s":"PT9","k":258},{"t":15,"s":"PT9","k":254},{"t":16,"s":"PT9","k":249},{"t":17,"s":"PT9","k":244},{"t":18,"s":"PT9","k":239},{"t":19,"s":"PT9","k":234.3},{"t":20,"s":"PT9","k":229.5},
{"t":21,"s":"PT9","k":225},{"t":22,"s":"PT9","k":221},{"t":23,"s":"PT9","k":216.8},{"t":24,"s":"PT9","k":212},{"t":25,"s":"PT9","k":208},{"t":26,"s":"PT9","k":204},{"t":27,"s":"PT9","k":200},{"t":28,"s":"PT9","k":196.2},{"t":29,"s":"PT9","k":191.4},{"t":30,"s":"PT9","k":186},
{"t":31,"s":"PT9","k":181},{"t":32,"s":"PT9","k":178.5},{"t":33,"s":"PT9","k":176.3},{"t":34,"s":"PT9","k":173.5},{"t":35,"s":"PT9","k":171},{"t":36,"s":"PT9","k":167.5},{"t":37,"s":"PT9","k":164},{"t":38,"s":"PT9","k":160},{"t":39,"s":"PT9","k":156.5},{"t":40,"s":"PT9","k":152.5},
{"t":41,"s":"PT9","k":147.8},{"t":42,"s":"PT9","k":143},{"t":43,"s":"PT9","k":129},{"t":44,"s":"PT9","k":106.5},{"t":45,"s":"PT9","k":95.4},{"t":46,"s":"PT9","k":91.4},{"t":47,"s":"PT9","k":90.3},{"t":48,"s":"PT9","k":89.4},{"t":49,"s":"PT9","k":89},{"t":50,"s":"PT9","k":88.2},
{"t":51,"s":"PT9","k":88},{"t":52,"s":"PT9","k":87.9},{"t":53,"s":"PT9","k":87.8},{"t":54,"s":"PT9","k":87.7},{"t":55,"s":"PT9","k":87.5},{"t":56,"s":"PT9","k":87.3},{"t":57,"s":"PT9","k":87.1},{"t":58,"s":"PT9","k":86.9},{"t":59,"s":"PT9","k":86.7},{"t":60,"s":"PT9","k":81.5},
{"t":61,"s":"PT9","k":81.5},{"t":62,"s":"PT9","k":81.5},{"t":63,"s":"PT9","k":81.5},{"t":64,"s":"PT9","k":81.5},{"t":65,"s":"PT9","k":81.5},{"t":66,"s":"PT9","k":81.5},{"t":67,"s":"PT9","k":83}
]
},
"layer": [
{
"data": {"name": "strain"},
"encoding": {
"x": {"field": "t", "type": "quantitative", "scale": {"domain": [0, 75], "nice": false, "zero": false},
"axis": {"orient": "bottom", "values": [0,5,10,15,20,25,30,35,40,45,50,55,60,65,70,75], "labelExpr": "datum.value % 10 === 0 ? '' + datum.value : ''", "tickSize": {"condition": {"test": "datum.value % 10 === 0", "value": 12}, "value": 7}, "tickWidth": 2, "tickColor": "#333", "domainColor": "#333", "domainWidth": 2, "labelFontSize": 19, "labelColor": "#333", "labelFont": "Liberation Sans", "labelPadding": 3, "labelFlush": false, "labelOverlap": false, "grid": false, "title": "Acquisition time [min.]", "titleFontSize": 26, "titleFontWeight": "normal", "titleColor": "#333", "titleFont": "Liberation Sans", "titlePadding": 4}},
"y": {"field": "v", "type": "quantitative", "scale": {"domain": [-4000, 1500], "nice": false, "zero": false},
"axis": {"orient": "left", "values": [-4000,-3500,-3000,-2500,-2000,-1500,-1000,-500,0,500,1000,1500], "labelExpr": "datum.value % 1000 === 0 ? '' + datum.value : ''", "tickSize": {"condition": {"test": "datum.value % 1000 === 0", "value": 12}, "value": 7}, "tickWidth": 2, "tickColor": "#333", "domainColor": "#333", "domainWidth": 2, "labelFontSize": 22, "labelColor": "#333", "labelFont": "Liberation Sans", "labelPadding": 10, "labelFlush": false, "labelOverlap": false, "grid": false, "title": "Δl/l [µm/m]", "titleFontSize": 27, "titleFontWeight": "normal", "titleColor": "#333", "titleFont": "Liberation Sans", "titlePadding": 16}}
},
"layer": [
{"mark": {"type": "line", "strokeWidth": 1.1},
"encoding": {
"stroke": {"field": "s", "type": "nominal", "scale": {"domain": ["St. gage 1","St. gage 2","St. gage 3","St. gage 4","St. gage 5","St. gage 6"], "range": ["#222","#777","#999","#999","#d4d4d4","#a0a0a0"]}, "legend": null},
"strokeDash": {"field": "s", "type": "nominal", "scale": {"domain": ["St. gage 1","St. gage 2","St. gage 3","St. gage 4","St. gage 5","St. gage 6"], "range": [[1,0],[1,0],[1,0],[1,0],[1,0],[7,3,2,3]]}, "legend": null}
}},
{"mark": {"type": "point", "filled": true, "opacity": 1},
"encoding": {
"fill": {"field": "s", "type": "nominal", "scale": {"domain": ["St. gage 1","St. gage 2","St. gage 3","St. gage 4","St. gage 5","St. gage 6"], "range": ["#2a2a2a","#333","#333","#333","#9a9a9a","#9a9a9a"]}, "legend": null},
"shape": {"field": "s", "type": "nominal", "scale": {"domain": ["St. gage 1","St. gage 2","St. gage 3","St. gage 4","St. gage 5","St. gage 6"], "range": ["square","circle","triangle-up","triangle-down","diamond","cross"]}, "legend": null},
"size": {"field": "s", "type": "nominal", "scale": {"domain": ["St. gage 1","St. gage 2","St. gage 3","St. gage 4","St. gage 5","St. gage 6"], "range": [60,70,75,75,60,8]}, "legend": null}
}}
]
},
{
"data": {"name": "temp"},
"encoding": {
"x": {"field": "t", "type": "quantitative", "scale": {"domain": [0, 75], "nice": false, "zero": false},
"axis": {"orient": "top", "values": [0,5,10,15,20,25,30,35,40,45,50,55,60,65,70,75], "labels": false, "tickSize": {"condition": {"test": "datum.value % 10 === 0", "value": -12}, "value": -6}, "tickWidth": 2, "tickColor": "#333", "domainColor": "#333", "domainWidth": 2, "grid": false, "title": null}},
"y": {"field": "k", "type": "quantitative", "scale": {"domain": [60, 320], "nice": false, "zero": false},
"axis": {"orient": "right", "values": [60,80,100,120,140,160,180,200,220,240,260,280,300,320], "labelExpr": "datum.value % 40 === 0 ? '' + datum.value : ''", "tickSize": {"condition": {"test": "datum.value % 40 === 0", "value": -13}, "value": -6}, "tickWidth": 2, "tickColor": "#333", "domainColor": "#333", "domainWidth": 2, "labelFontSize": 22, "labelColor": "#333", "labelFont": "Liberation Sans", "labelPadding": 27, "labelFlush": false, "labelOverlap": false, "grid": false, "title": "Temperature [K]", "titleFontSize": 27, "titleFontWeight": "normal", "titleColor": "#333", "titleFont": "Liberation Sans", "titleAngle": 270, "titlePadding": 44, "titleY": 290}}
},
"layer": [
{"transform": [{"filter": "datum.s !== 'PT8'"}],
"mark": {"type": "line", "strokeWidth": 1.1},
"encoding": {
"stroke": {"field": "s", "type": "nominal", "scale": {"domain": ["PT1","PT3","PT6","PT7","PT8","PT9"], "range": ["#1e1e1e","#333","#333","#444","#777","#8c8c8c"]}, "legend": null},
"strokeDash": {"field": "s", "type": "nominal", "scale": {"domain": ["PT1","PT3","PT6","PT7","PT8","PT9"], "range": [[1,0],[1,0],[1,0],[7,2,2,2],[1,0],[3,7]]}, "legend": null}
}},
{"mark": {"type": "point", "filled": true, "opacity": 1, "strokeWidth": 0.9},
"encoding": {
"stroke": {"field": "s", "type": "nominal", "legend": null},
"fill": {"field": "s", "type": "nominal", "scale": {"domain": ["PT1","PT3","PT6","PT7","PT8","PT9"], "range": ["white","white","white","white","#6a6a6a","#8c8c8c"]}, "legend": null},
"shape": {"field": "s", "type": "nominal", "scale": {"domain": ["PT1","PT3","PT6","PT7","PT8","PT9"], "range": ["square","circle","circle","triangle-up","circle","cross"]}, "legend": null},
"size": {"field": "s", "type": "nominal", "scale": {"domain": ["PT1","PT3","PT6","PT7","PT8","PT9"], "range": [18,8,8,8,8,10]}, "legend": null}
}}
]
},
{
"data": {"name": "strain"},
"transform": [{"filter": "datum.t < 0"}],
"mark": {"type": "point", "filled": true, "opacity": 1},
"encoding": {
"x": {"field": "t", "type": "quantitative", "scale": {"domain": [0, 75], "nice": false, "zero": false},
"axis": {"orient": "bottom", "offset": 0, "domain": false, "ticks": false, "labels": false, "grid": false, "title": "Sampling rate 1 min.⁻¹", "titleFontSize": 14, "titleFontWeight": "bold", "titleColor": "#333", "titleFont": "Liberation Sans", "titlePadding": 87}},
"fill": {"field": "s", "type": "nominal", "scale": {"domain": ["St. gage 1","St. gage 2","St. gage 3","St. gage 4","St. gage 5","St. gage 6"], "range": ["#222","#333","#333","#333","#999","#888"]},
"legend": {"orient": "none", "legendX": 176, "legendY": 319, "title": null, "symbolSize": 3721, "symbolStrokeWidth": 1.3, "symbolOpacity": 1, "labelFontSize": 23, "labelFont": "Liberation Sans", "labelColor": "#333", "labelOffset": 8, "clipHeight": 20, "rowPadding": 10.5, "labelLimit": 300}},
"stroke": {"field": "s", "type": "nominal", "scale": {"domain": ["St. gage 1","St. gage 2","St. gage 3","St. gage 4","St. gage 5","St. gage 6"], "range": ["#222","#777","#888","#777","#d0d0d0","#999"]},
"legend": {"orient": "none", "legendX": 176, "legendY": 319, "title": null, "symbolSize": 3721, "symbolStrokeWidth": 1.3, "symbolOpacity": 1, "labelFontSize": 23, "labelFont": "Liberation Sans", "labelColor": "#333", "labelOffset": 8, "clipHeight": 20, "rowPadding": 10.5, "labelLimit": 300}},
"shape": {"field": "s", "type": "nominal", "scale": {"domain": ["St. gage 1","St. gage 2","St. gage 3","St. gage 4","St. gage 5","St. gage 6"], "range": [
"M-1,0H-0.22M0.22,0H1M-0.13,-0.13H0.13V0.13H-0.13Z",
"M-1,0H-0.22M0.22,0H1M0.14,0A0.14,0.14 0 1 1 -0.14,0A0.14,0.14 0 1 1 0.14,0Z",
"M-1,0H-0.22M0.22,0H1M0,-0.17L0.15,0.1L-0.15,0.1Z",
"M-1,0H-0.22M0.22,0H1M0,0.17L0.15,-0.1L-0.15,-0.1Z",
"M-1,0H-0.22M0.22,0H1M0,-0.14L0.12,0L0,0.14L-0.12,0Z",
"M-1,0H-0.6M-0.5,0H-0.3M-0.06,0H0.03M0.3,0H1"
]},
"legend": {"orient": "none", "legendX": 176, "legendY": 319, "title": null, "symbolSize": 3721, "symbolStrokeWidth": 1.3, "symbolOpacity": 1, "labelFontSize": 23, "labelFont": "Liberation Sans", "labelColor": "#333", "labelOffset": 8, "clipHeight": 20, "rowPadding": 10.5, "labelLimit": 300}}
}
},
{
"data": {"name": "temp"},
"transform": [{"filter": "datum.t < 0"}],
"mark": {"type": "point", "filled": true, "opacity": 1},
"encoding": {
"fill": {"field": "s", "type": "nominal", "scale": {"domain": ["PT1","PT3","PT6","PT7","PT8","PT9"], "range": ["white","white","white","white","#555","#888"]},
"legend": {"orient": "none", "legendX": 747, "legendY": 193, "title": null, "symbolSize": 3136, "symbolStrokeWidth": 1.1, "symbolOpacity": 1, "labelFontSize": 19, "labelFont": "Liberation Sans", "labelColor": "#333", "labelOffset": 8, "clipHeight": 19, "rowPadding": 10, "labelLimit": 300}},
"stroke": {"field": "s", "type": "nominal", "scale": {"domain": ["PT1","PT3","PT6","PT7","PT8","PT9"], "range": ["#222","#333","#333","#333","#555","#888"]},
"legend": {"orient": "none", "legendX": 747, "legendY": 193, "title": null, "symbolSize": 3136, "symbolStrokeWidth": 1.1, "symbolOpacity": 1, "labelFontSize": 19, "labelFont": "Liberation Sans", "labelColor": "#333", "labelOffset": 8, "clipHeight": 19, "rowPadding": 10, "labelLimit": 300}},
"shape": {"field": "s", "type": "nominal", "scale": {"domain": ["PT1","PT3","PT6","PT7","PT8","PT9"], "range": [
"M-1,0H-0.1M0.1,0H1M-0.08,-0.08H0.08V0.08H-0.08Z",
"M-1,0H-0.06M0.06,0H1M0.05,0A0.05,0.05 0 1 1 -0.05,0A0.05,0.05 0 1 1 0.05,0Z",
"M-1,0H-0.06M0.06,0H1M0.05,0A0.05,0.05 0 1 1 -0.05,0A0.05,0.05 0 1 1 0.05,0Z",
"M-1,0H-0.07M0.07,0H1M0,-0.06L0.06,0.05L-0.06,0.05Z",
"M0.04,0A0.04,0.04 0 1 1 -0.04,0A0.04,0.04 0 1 1 0.04,0Z",
"M-1,0H-0.92M-0.05,0H0.05M0,-0.05V0.05"
]},
"legend": {"orient": "none", "legendX": 747, "legendY": 193, "title": null, "symbolSize": 3136, "symbolStrokeWidth": 1.1, "symbolOpacity": 1, "labelFontSize": 19, "labelFont": "Liberation Sans", "labelColor": "#333", "labelOffset": 8, "clipHeight": 19, "rowPadding": 10, "labelLimit": 300}}
}
}
],
"resolve": {"scale": {"x": "independent", "y": "independent", "fill": "independent", "stroke": "independent", "shape": "independent", "size": "independent", "strokeDash": "independent"}}
}
